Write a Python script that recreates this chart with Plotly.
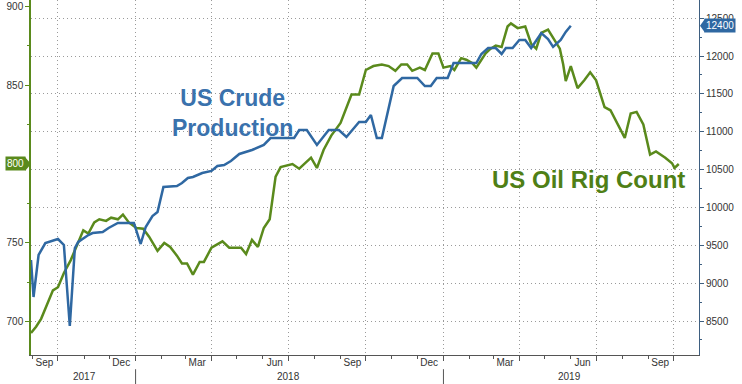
import plotly.graph_objects as go

# ---------------- data ----------------
rig_dates = [
    "2017-08-30", "2017-09-05", "2017-09-11", "2017-09-25", "2017-10-01", "2017-10-08",
    "2017-10-16", "2017-10-22", "2017-10-31", "2017-11-06", "2017-11-13", "2017-11-19",
    "2017-11-27", "2017-12-03", "2017-12-11", "2017-12-17", "2017-12-24", "2018-01-02",
    "2018-01-10", "2018-01-17", "2018-01-23", "2018-01-27", "2018-02-04", "2018-02-11",
    "2018-02-19", "2018-02-25", "2018-03-03", "2018-03-10", "2018-03-18", "2018-03-23",
    "2018-04-01", "2018-04-07", "2018-04-14", "2018-04-22", "2018-04-29", "2018-05-06",
    "2018-05-12", "2018-05-19", "2018-05-26", "2018-06-02", "2018-06-09", "2018-06-16",
    "2018-06-22", "2018-06-28", "2018-07-06", "2018-07-14", "2018-07-28", "2018-08-04",
    "2018-08-12", "2018-08-21", "2018-09-01", "2018-09-14", "2018-09-23", "2018-10-01",
    "2018-10-10", "2018-10-20", "2018-10-28", "2018-11-05", "2018-11-12", "2018-11-19",
    "2018-11-25", "2018-12-04", "2018-12-10", "2018-12-19", "2018-12-26", "2019-01-01",
    "2019-01-09", "2019-01-14", "2019-01-22", "2019-01-28", "2019-02-04", "2019-02-09",
    "2019-02-20", "2019-02-26", "2019-03-04", "2019-03-11", "2019-03-18", "2019-03-22",
    "2019-03-30", "2019-04-08", "2019-04-15", "2019-04-21", "2019-04-27", "2019-05-05",
    "2019-05-13", "2019-05-19", "2019-05-23", "2019-05-26", "2019-06-01", "2019-06-09",
    "2019-06-17", "2019-06-24", "2019-07-01", "2019-07-11", "2019-07-18", "2019-07-26",
    "2019-08-04", "2019-08-11", "2019-08-18", "2019-08-26", "2019-09-03", "2019-09-10",
    "2019-09-21", "2019-09-29", "2019-10-02", "2019-10-07",
]
rig_count = [
    693, 697, 702, 720, 722, 731,
    739, 747, 758, 756, 763, 765,
    764, 766, 765, 768, 763, 759.5,
    759, 754, 749, 745, 750, 747.5,
    742, 737, 737, 730, 738, 738,
    747, 749, 751, 747, 747, 747,
    743, 752, 747.5, 759.5, 765, 792,
    798, 799, 800, 797, 804, 797.5,
    809, 818, 826, 844, 844, 859.5,
    862, 863, 862, 859, 863, 863,
    859, 861, 859.5, 870, 870, 861,
    862, 859.5, 867, 866, 864, 861,
    870, 873, 875, 874, 887, 889,
    886, 887, 876, 873, 883, 885,
    878, 873, 863, 852.5, 862, 848,
    853, 858, 853, 836, 834, 826,
    816.5, 832, 833, 825, 806, 808,
    804, 800.5, 797.5, 800,
]

prod_dates = [
    "2017-08-30", "2017-09-02", "2017-09-08", "2017-09-16", "2017-10-01", "2017-10-08",
    "2017-10-15", "2017-10-21", "2017-10-25", "2017-11-06", "2017-11-11", "2017-11-23",
    "2017-11-30", "2017-12-11", "2017-12-17", "2017-12-23", "2017-12-30", "2018-01-07",
    "2018-01-13", "2018-01-21", "2018-01-27", "2018-02-03", "2018-02-13", "2018-02-19",
    "2018-02-25", "2018-03-04", "2018-03-10", "2018-03-21", "2018-04-01", "2018-04-08",
    "2018-04-16", "2018-04-24", "2018-05-04", "2018-05-12", "2018-05-19", "2018-06-02",
    "2018-06-10", "2018-06-20", "2018-06-28", "2018-07-08", "2018-07-14", "2018-07-23",
    "2018-08-04", "2018-08-18", "2018-08-24", "2018-08-30", "2018-09-08", "2018-09-23",
    "2018-10-01", "2018-10-07", "2018-10-14", "2018-10-20", "2018-11-03", "2018-11-13",
    "2018-11-22", "2018-12-01", "2018-12-10", "2018-12-17", "2018-12-24", "2019-01-01",
    "2019-01-06", "2019-01-13", "2019-01-20", "2019-01-27", "2019-02-03", "2019-02-09",
    "2019-02-15", "2019-02-23", "2019-03-04", "2019-03-11", "2019-03-16", "2019-03-24",
    "2019-04-01", "2019-04-08", "2019-04-15", "2019-04-27", "2019-05-05", "2019-05-11",
    "2019-05-20", "2019-05-26", "2019-06-01",
]
production = [
    9306, 8817, 9372, 9530, 9583, 9504,
    8434, 9464, 9544, 9636, 9662, 9676,
    9729, 9795, 9795, 9795, 9795, 9517,
    9742, 9887, 9940, 10270, 10283, 10283,
    10323, 10389, 10402, 10455, 10482, 10548,
    10561, 10614, 10706, 10732, 10759, 10825,
    10917, 10917, 10917, 10917, 11023, 11023,
    10825, 11023, 11023, 11023, 10931, 11129,
    11129, 11221, 10917, 10917, 11604, 11710,
    11710, 11710, 11604, 11604, 11710, 11710,
    11710, 11908, 11908, 11908, 11908, 11908,
    12027, 12106, 12106, 12027, 12106, 12106,
    12212, 12212, 12106, 12304, 12225, 12120,
    12212, 12318, 12400,
]

quarter_starts = ["2017-10-01", "2018-01-01", "2018-04-01", "2018-07-01", "2018-10-01",
                  "2019-01-01", "2019-04-01", "2019-07-01", "2019-10-01"]
month_label_pos = ["2017-09-15", "2017-12-15", "2018-03-15", "2018-06-15", "2018-09-15",
                   "2018-12-15", "2019-03-15", "2019-06-15", "2019-09-15"]
month_labels = ["Sep", "Dec", "Mar", "Jun", "Sep", "Dec", "Mar", "Jun", "Sep"]
year_pos = ["2017-11-01", "2018-07-01", "2019-05-31"]
year_labels = ["2017", "2018", "2019"]
year_breaks = ["2018-01-01", "2019-01-01"]
left_ticks = [700, 750, 800, 850, 900]
right_ticks = [8500, 9000, 9500, 10000, 10500, 11000, 11500, 12000, 12500]

GREEN = "#5a8a1c"
GREEN_TXT = "#4f7f16"
BLUE = "#2f68a2"
BLUE_TXT = "#3a72ad"
FONT_FAMILY = "Liberation Sans, Arial, sans-serif"
TICKFONT = dict(family=FONT_FAMILY, size=10, color="#333333")
X_RANGE = ["2017-08-30", "2019-10-31"]
GRID_DASH = "1px,3px"

fig = go.Figure()
fig.add_trace(go.Scatter(x=prod_dates, y=production, mode="lines", yaxis="y2",
                         line=dict(color=BLUE, width=2.5), name="US Crude Production"))
fig.add_trace(go.Scatter(x=rig_dates, y=rig_count, mode="lines", yaxis="y",
                         line=dict(color=GREEN, width=2.5), name="US Oil Rig Count"))
# carrier for the month-label axis (draws nothing)
fig.add_trace(go.Scatter(x=month_label_pos, y=[None] * len(month_label_pos), xaxis="x2",
                         yaxis="y", mode="lines", hoverinfo="skip", showlegend=False))

annotations = [
    dict(text="<b>US Crude<br>Production</b>", xref="paper", yref="paper", x=0.302, y=0.682,
         xanchor="center", yanchor="middle", showarrow=False, align="center",
         font=dict(family=FONT_FAMILY, size=23, color=BLUE_TXT)),
    dict(text="<b>US Oil Rig Count</b>", xref="paper", yref="paper", x=0.834, y=0.493,
         xanchor="center", yanchor="middle", showarrow=False,
         font=dict(family=FONT_FAMILY, size=24, color=GREEN_TXT)),
    dict(text=f"{rig_count[-1]:g}", xref="paper", yref="y", x=0, y=rig_count[-1],
         xanchor="right", xshift=-5, showarrow=False, bgcolor=GREEN, borderpad=1,
         font=dict(family=FONT_FAMILY, size=10, color="white")),
    dict(text=f"{production[-1]:g}", xref="paper", yref="y2", x=1, y=production[-1],
         xanchor="left", xshift=5, showarrow=False, bgcolor=BLUE, borderpad=1,
         font=dict(family=FONT_FAMILY, size=10, color="white")),
]
for xp, lab in zip(year_pos, year_labels):
    annotations.append(dict(text=lab, xref="x", yref="paper", x=xp, y=-0.06, yanchor="middle",
                            xanchor="center", showarrow=False, font=TICKFONT))

shapes = []
for xb in year_breaks:
    shapes.append(dict(type="line", xref="x", yref="paper", x0=xb, x1=xb, y0=-0.04, y1=-0.082,
                       line=dict(color="#555555", width=1)))
shapes.append(dict(type="path", xref="paper", yref="y", xsizemode="pixel", ysizemode="pixel",
                   xanchor=0, yanchor=rig_count[-1], path="M-6,7 L0,0 L-6,-7 Z",
                   fillcolor=GREEN, line=dict(width=0)))
shapes.append(dict(type="path", xref="paper", yref="y2", xsizemode="pixel", ysizemode="pixel",
                   xanchor=1, yanchor=production[-1], path="M6,7 L1,0 L6,-7 Z",
                   fillcolor=BLUE, line=dict(width=0)))

fig.update_layout(
    width=742, height=384,
    margin=dict(l=31, r=43, t=0, b=29),
    paper_bgcolor="white", plot_bgcolor="white",
    showlegend=False,
    xaxis=dict(type="date", range=X_RANGE, tickvals=quarter_starts, showticklabels=False,
               ticks="outside", ticklen=5, tickcolor="#555555", showgrid=True,
               gridcolor="#9a9a9a", griddash=GRID_DASH, gridwidth=1, showline=True,
               linecolor="#555555", linewidth=1, zeroline=False, automargin=False,
               minor=dict(ticks="outside", ticklen=3, tickcolor="#555555",
                          dtick="M1", tick0="2017-09-01", showgrid=False)),
    xaxis2=dict(type="date", range=X_RANGE, overlaying="x", anchor="y",
                side="bottom", tickvals=month_label_pos, ticktext=month_labels, ticks="",
                showgrid=False, showline=False, zeroline=False, tickfont=TICKFONT,
                automargin=False),
    yaxis=dict(range=[679.1, 903.8], tickvals=left_ticks, ticks="outside", ticklen=4,
               tickcolor=GREEN, showline=True, linecolor=GREEN, linewidth=1.5,
               showgrid=False, zeroline=False, tickfont=TICKFONT, automargin=False,
               minor=dict(ticks="outside", ticklen=2, tickcolor=GREEN, dtick=25,
                          tick0=675, showgrid=False)),
    yaxis2=dict(range=[8051, 12740], overlaying="y", side="right", anchor="x",
                tickvals=right_ticks, ticktext=[str(v) for v in right_ticks],
                ticks="outside", ticklen=4, tickcolor="#3e5f80",
                showline=True, linecolor="#3e5f80", linewidth=1, showgrid=True,
                gridcolor="#9a9a9a", griddash=GRID_DASH, gridwidth=1, zeroline=False,
                tickfont=TICKFONT, automargin=False,
                minor=dict(ticks="outside", ticklen=2, tickcolor="#3e5f80", dtick=250,
                           tick0=8000, showgrid=False)),
    annotations=annotations,
    shapes=shapes,
)

fig.write_html("out.html", config={"displayModeBar": False},
               post_script="document.body.style.margin='0px';")
